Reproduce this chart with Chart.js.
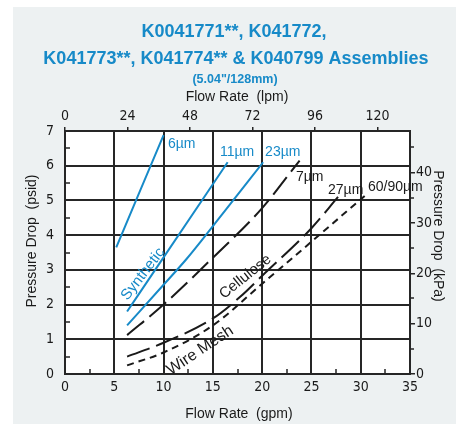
<!DOCTYPE html>
<html>
<head>
<meta charset="utf-8">
<script src="https://cdn.jsdelivr.net/npm/chart.js@4/dist/chart.umd.min.js"></script>
<style>
  html, body { margin: 0; padding: 0; background: #fff; }
  #wrap { position: relative; width: 456px; height: 424px; }
</style>
</head>
<body>
<div id="wrap"><canvas id="chart" width="456" height="424"></canvas></div>
<script>
// Axis ticks
const gpmTicks = [0, 5, 10, 15, 20, 25, 30, 35];
const psidTicks = [0, 1, 2, 3, 4, 5, 6, 7];
const lpmTicks = [0, 24, 48, 72, 96, 120];
const kpaTicks = [0, 10, 20, 30, 40];

// Curves: flow (gpm) vs pressure drop (psid)
const syn6Gpm = [5.2, 10];
const syn6Psid = [3.65, 6.88];
const syn11Gpm = [6.3, 10, 16.5];
const syn11Psid = [1.8, 3.36, 6.1];
const syn23Gpm = [6.3, 10, 12.35, 16, 20.1];
const syn23Psid = [1.4, 2.57, 3.32, 4.62, 6.1];
const cel7Gpm = [6.3, 10, 15, 20, 23.8];
const cel7Psid = [1.12, 2.0, 3.35, 4.78, 6.15];
const cel27Gpm = [6.3, 10, 15, 17.8, 20, 25, 27.7];
const cel27Psid = [0.5, 0.9, 1.6, 2.23, 2.83, 4.2, 5.1];
const wireGpm = [6.3, 10, 15, 20, 25, 30.4];
const wirePsid = [0.25, 0.62, 1.4, 2.6, 3.81, 5.13];

const GPM_TO_LPM = 3.785411784;
const PSI_TO_KPA = 6.894757;

const BLUE = '#178ac8';
const INK = '#1a1a1a';
const GRID = '#262626';
const NARROW = '"Liberation Sans Narrow", "DejaVu Sans Condensed", sans-serif';
const SANS = '"Liberation Sans", Arial, sans-serif';

const pts = (xs, ys) => xs.map((x, i) => ({ x: x, y: ys[i] }));

const series = [
    { data: pts(syn6Gpm, syn6Psid), color: BLUE, dash: [] },
    { data: pts(syn11Gpm, syn11Psid), color: BLUE, dash: [] },
    { data: pts(syn23Gpm, syn23Psid), color: BLUE, dash: [] },
    { data: pts(cel7Gpm, cel7Psid), color: INK, dash: [22, 7] },
    { data: pts(cel27Gpm, cel27Psid), color: INK, dash: [24, 7] },
    { data: pts(wireGpm, wirePsid), color: INK, dash: [7, 5] }
];

// Curve labels, placed in data units
const curveLabels = [
    { text: '6µm', gpm: 10.45, psid: 6.63, color: BLUE, rot: 0, size: 14, align: 'left' },
    { text: '11µm', gpm: 15.72, psid: 6.4, color: BLUE, rot: 0, size: 14, align: 'left' },
    { text: '23µm', gpm: 20.3, psid: 6.4, color: BLUE, rot: 0, size: 14, align: 'left' },
    { text: '7µm', gpm: 23.43, psid: 5.68, color: INK, rot: 0, size: 14, align: 'left' },
    { text: '27µm', gpm: 26.68, psid: 5.3, color: INK, rot: 0, size: 14, align: 'left' },
    { text: '60/90µm', gpm: 30.74, psid: 5.39, color: INK, rot: 0, size: 14, align: 'left' },
    { text: 'Synthetic', gpm: 7.91, psid: 2.88, color: BLUE, rot: -52.5, size: 15, align: 'center' },
    { text: 'Cellulose', gpm: 18.3, psid: 2.8, color: INK, rot: -38.7, size: 15, align: 'center' },
    { text: 'Wire Mesh', gpm: 13.7, psid: 0.68, color: INK, rot: -33.7, size: 16, align: 'center' }
];

const setTicks = (values) => (scale) => {
    scale.ticks = values.map(v => ({ value: v }));
};

const backdrop = {
    id: 'backdrop',
    beforeDraw(chart) {
        const { ctx, chartArea: a } = chart;
        ctx.save();
        ctx.fillStyle = '#fff';
        ctx.fillRect(0, 0, chart.width, chart.height);
        ctx.fillStyle = '#edf1f2';
        ctx.fillRect(13, 7, chart.width - 13, chart.height - 7);
        ctx.fillStyle = '#fff';
        ctx.fillRect(a.left, a.top, a.right - a.left, a.bottom - a.top);
        ctx.restore();
    }
};

const extras = {
    id: 'extras',
    afterDraw(chart) {
        const { ctx, chartArea: a, scales } = chart;
        const sx = scales.x, sy = scales.y, sk = scales.y2;
        ctx.save();

        // minor ticks
        ctx.strokeStyle = GRID;
        ctx.lineWidth = 1.5;
        ctx.beginPath();
        for (let v = 2.5; v < 35; v += 5) {
            const px = Math.round(sx.getPixelForValue(v));
            ctx.moveTo(px, a.bottom);
            ctx.lineTo(px, a.bottom - 5);
        }
        for (let v = 0.5; v < 7; v += 1) {
            const py = Math.round(sy.getPixelForValue(v));
            ctx.moveTo(a.left, py);
            ctx.lineTo(a.left + 5, py);
        }
        for (let v = 5; v < 48; v += 10) {
            const py = Math.round(sk.getPixelForValue(v));
            ctx.moveTo(a.right, py);
            ctx.lineTo(a.right + 4, py);
        }
        ctx.stroke();

        // title block
        ctx.fillStyle = BLUE;
        ctx.textAlign = 'center';
        ctx.textBaseline = 'alphabetic';
        ctx.font = 'bold 18px ' + SANS;
        ctx.fillText('K0041771**, K041772,', 234, 37);
        ctx.fillText('K041773**, K041774** & K040799 Assemblies', 236, 64);
        ctx.font = 'bold 12.5px ' + SANS;
        ctx.fillText('(5.04"/128mm)', 235, 83);

        // axis titles
        ctx.fillStyle = INK;
        ctx.font = '14px ' + SANS;
        ctx.fillText('Flow Rate  (lpm)', 237, 101);
        ctx.fillText('Flow Rate  (gpm)', 239, 418);
        ctx.save();
        ctx.translate(36, 241);
        ctx.rotate(-Math.PI / 2);
        ctx.fillText('Pressure Drop  (psid)', 0, 0);
        ctx.restore();
        ctx.save();
        ctx.translate(434, 236);
        ctx.rotate(Math.PI / 2);
        ctx.fillText('Pressure Drop  (kPa)', 0, 0);
        ctx.restore();

        // curve labels
        curveLabels.forEach(l => {
            const px = sx.getPixelForValue(l.gpm);
            const py = sy.getPixelForValue(l.psid);
            ctx.save();
            ctx.translate(px, py);
            ctx.rotate(l.rot * Math.PI / 180);
            ctx.fillStyle = l.color;
            ctx.font = l.size + 'px ' + SANS;
            ctx.textAlign = l.align;
            ctx.textBaseline = 'middle';
            ctx.fillText(l.text, 0, 0);
            ctx.restore();
        });
        ctx.restore();
    }
};

const tickFont = { family: NARROW, size: 14 };

new Chart(document.getElementById('chart'), {
    type: 'line',
    data: {
        datasets: series.map(s => ({
            data: s.data,
            borderColor: s.color,
            borderWidth: 2,
            borderDash: s.dash,
            pointRadius: 0,
            fill: false,
            cubicInterpolationMode: 'monotone',
            xAxisID: 'x',
            yAxisID: 'y'
        }))
    },
    options: {
        responsive: false,
        animation: false,
        devicePixelRatio: 1,
        layout: { padding: 0 },
        plugins: { legend: { display: false }, tooltip: { enabled: false } },
        scales: {
            x: {
                type: 'linear', position: 'bottom', min: 0, max: 35,
                afterBuildTicks: setTicks(gpmTicks),
                afterFit: (s) => { s.height = 50; },
                grid: { color: GRID, lineWidth: 2, drawTicks: false },
                border: { display: true, color: GRID, width: 2 },
                ticks: { color: INK, font: tickFont, padding: 5, maxRotation: 0 }
            },
            x2: {
                type: 'linear', position: 'top', min: 0, max: 35 * GPM_TO_LPM,
                afterBuildTicks: setTicks(lpmTicks),
                afterFit: (s) => { s.height = 131; },
                grid: { drawOnChartArea: false, drawTicks: true, tickLength: 4, color: GRID, lineWidth: 1.5 },
                border: { display: true, color: GRID, width: 2 },
                ticks: { color: INK, font: tickFont, padding: 2, maxRotation: 0 }
            },
            y: {
                type: 'linear', position: 'left', min: 0, max: 7,
                afterBuildTicks: setTicks(psidTicks),
                afterFit: (s) => { s.width = 65; },
                grid: { color: GRID, lineWidth: 2, drawTicks: false },
                border: { display: true, color: GRID, width: 2 },
                ticks: { color: INK, font: tickFont, padding: 11 }
            },
            y2: {
                type: 'linear', position: 'right', min: 0, max: 7 * PSI_TO_KPA,
                afterBuildTicks: setTicks(kpaTicks),
                afterFit: (s) => { s.width = 46; },
                grid: { drawOnChartArea: false, drawTicks: true, tickLength: 5, color: GRID, lineWidth: 1.5 },
                border: { display: true, color: GRID, width: 2 },
                ticks: { color: INK, font: tickFont, padding: 1 }
            }
        }
    },
    plugins: [backdrop, extras]
});
</script>
</body>
</html>
